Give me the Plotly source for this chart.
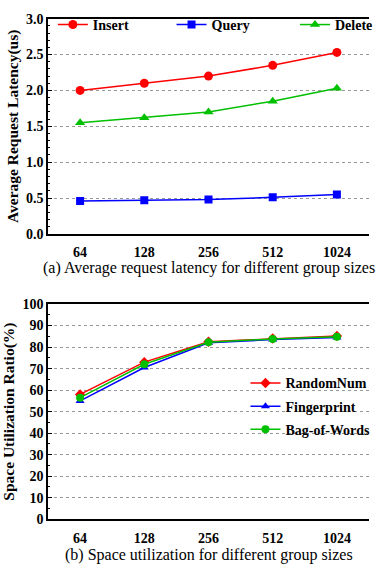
import plotly.graph_objects as go

group_sizes = ["64", "128", "256", "512", "1024"]

insert_lat = [2.00, 2.10, 2.20, 2.35, 2.53]
query_lat = [0.46, 0.47, 0.48, 0.51, 0.55]
delete_lat = [1.55, 1.62, 1.70, 1.85, 2.03]

random_num = [58.0, 73.0, 82.5, 84.0, 85.2]
fingerprint = [55.0, 70.5, 82.0, 83.5, 84.5]
bag_of_words = [56.5, 72.0, 82.2, 83.8, 84.8]

RED = "#FF0000"
BLUE = "#0000FF"
GREEN = "#00C000"
FONT = "Liberation Serif"

W, H = 378, 574
L = 48
PW = W - L

fig = go.Figure()

def add(x, y, name, color, symbol, size, xa, ya, leg, grp):
    fig.add_trace(go.Scatter(x=x, y=y, name="<b>" + name + "</b>", mode="lines+markers",
                             line=dict(color=color, width=1.5),
                             marker=dict(symbol=symbol, size=size, color=color),
                             xaxis=xa, yaxis=ya, legend=leg, legendgroup=grp))

add(group_sizes, insert_lat, "Insert", RED, "circle", 9, "x", "y", "legend", "a1")
add(group_sizes, query_lat, "Query", BLUE, "square", 8, "x", "y", "legend2", "a2")
add(group_sizes, delete_lat, "Delete", GREEN, "triangle-up", 9, "x", "y", "legend3", "a3")
add(group_sizes, random_num, "RandomNum", RED, "diamond", 8, "x2", "y2", "legend4", "b1")
add(group_sizes, fingerprint, "Fingerprint", BLUE, "triangle-up", 8, "x2", "y2", "legend4", "b2")
add(group_sizes, bag_of_words, "Bag-of-Words", GREEN, "circle", 8, "x2", "y2", "legend4", "b3")

def py(px):
    return 1 - px / H

def pxx(px):
    return (px - L) / PW

tickfont = dict(family=FONT, size=14, color="black", weight="bold")
titlefont = dict(family=FONT, size=15.5, color="black", weight="bold")
legfont = dict(family=FONT, size=14, color="black", weight="bold")

xcommon = dict(type="category", range=[-0.5, 4.5], showgrid=False, showline=True, linecolor="black",
               linewidth=1.5, mirror=True, ticks="", tickfont=tickfont, ticklabelstandoff=5,
               zeroline=False)
ycommon = dict(showgrid=True, gridcolor="#999999", griddash="dot", gridwidth=1, showline=True,
               linecolor="black", linewidth=1.5, ticks="inside", ticklen=4, tickcolor="black",
               tickfont=tickfont, zeroline=False)

def topleg(xpx):
    return dict(orientation="v", x=pxx(xpx), y=py(2), xanchor="left", yanchor="top",
                font=legfont, bgcolor="rgba(0,0,0,0)", itemwidth=30)

fig.update_layout(
    width=W, height=H,
    margin=dict(l=L, r=0, t=0, b=0),
    paper_bgcolor="white", plot_bgcolor="white",
    showlegend=True,
    xaxis=dict(xcommon, domain=[0, 1], anchor="y"),
    yaxis=dict(ycommon, domain=[py(233), py(12)], range=[0, 3.0], dtick=0.5, tickformat=".1f",
               minor=dict(dtick=0.1, ticks="inside", ticklen=2, tickcolor="black", showgrid=False),
               title=dict(text="Average Request Latency(us)", font=titlefont, standoff=4)),
    xaxis2=dict(xcommon, domain=[0, 1], anchor="y2"),
    yaxis2=dict(ycommon, domain=[py(526), py(305)], range=[0, 100], dtick=10,
                minor=dict(dtick=5, ticks="inside", ticklen=2, tickcolor="black", showgrid=False),
                title=dict(text="Space Utilization Ratio(%)", font=titlefont, standoff=4)),
    legend=topleg(53),
    legend2=topleg(175),
    legend3=topleg(302),
    legend4=dict(orientation="v", x=pxx(251), y=py(370), xanchor="left", yanchor="top",
                 font=dict(family=FONT, size=14, color="black", weight="bold"),
                 bgcolor="rgba(0,0,0,0)", itemwidth=30, tracegroupgap=2),
    annotations=[
        dict(text="(a) Average request latency for different group sizes", x=0.5, y=py(268),
             xref="paper", yref="paper", showarrow=False, xanchor="center", yanchor="middle",
             font=dict(family=FONT, size=16, color="black")),
        dict(text="(b) Space utilization for different group sizes", x=0.5, y=py(563),
             xref="paper", yref="paper", showarrow=False, xanchor="center", yanchor="middle",
             font=dict(family=FONT, size=16, color="black")),
    ],
)

fig.write_html("out.html")
